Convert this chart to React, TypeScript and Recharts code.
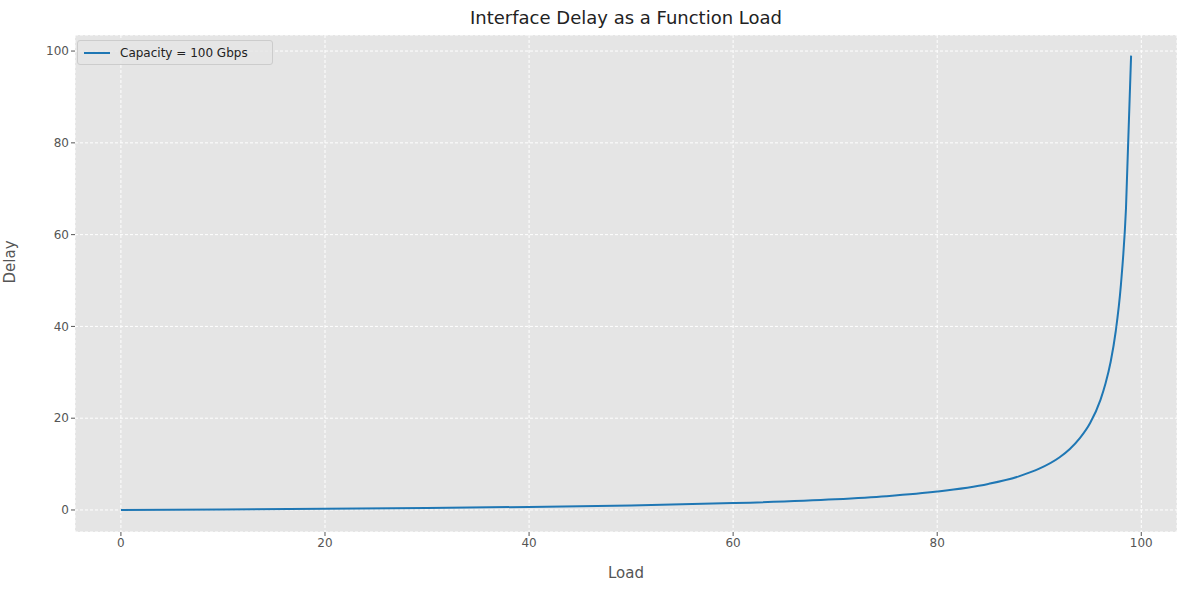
import React from "react";
import { LineChart, Line, XAxis, YAxis, CartesianGrid } from "recharts";

const loads = [0, 10, 20, 30, 40, 50, 60, 70, 75, 80, 85, 88, 90, 92, 93, 94, 95, 96, 96.5, 97, 97.5, 98, 98.5, 99];
const delays = [0, 0.11, 0.25, 0.43, 0.67, 1, 1.5, 2.33, 3, 4, 5.67, 7.33, 9, 11.5, 13.3, 15.7, 19, 24, 27.6, 32.3, 39, 49, 65.7, 99];
const xTicks = [0, 20, 40, 60, 80, 100];
const yTicks = [0, 20, 40, 60, 80, 100];

const data = loads.map((l, i) => ({ load: l, delay: delays[i] }));
const font = "DejaVu Sans, sans-serif";
const tick = { fill: "#555", fontSize: 12, fontFamily: font };

export default function App() {
  return (
    <div style={{ position: "absolute", left: 0, top: 0, width: 1189, height: 590, background: "#fff", fontFamily: font }}>
      <div style={{ position: "absolute", top: 7, width: 1252, textAlign: "center", fontSize: 18, color: "#222" }}>
        Interface Delay as a Function Load
      </div>
      <LineChart width={1189} height={590} data={data} margin={{ top: 35, right: 12, bottom: 0, left: 0 }}>
        <CartesianGrid fill="#e5e5e5" stroke="#fff" strokeDasharray="3 2" />
        <XAxis dataKey="load" type="number" domain={[-4.5, 103.5]} ticks={xTicks} height={58}
          tick={tick} axisLine={false} tickLine={{ stroke: "#555" }} tickSize={4}
          label={{ value: "Load", position: "insideBottom", offset: 12, fill: "#555", fontSize: 15, fontFamily: font }} />
        <YAxis type="number" domain={[-4.8, 103.5]} ticks={yTicks} width={75}
          tick={tick} axisLine={false} tickLine={{ stroke: "#555" }} tickSize={4}
          label={{ value: "Delay", angle: -90, position: "insideLeft", offset: 10, fill: "#555", fontSize: 15, fontFamily: font }} />
        <Line dataKey="delay" type="monotone" stroke="#1f77b4" strokeWidth={2} dot={false} isAnimationActive={false} />
      </LineChart>
      <div style={{ position: "absolute", left: 77, top: 40, width: 196, height: 25, boxSizing: "border-box", border: "1px solid #ccc", borderRadius: 3, background: "rgba(229,229,229,0.8)", display: "flex", alignItems: "center", fontSize: 12, color: "#222" }}>
        <span style={{ display: "inline-block", width: 26, height: 2, background: "#1f77b4", margin: "0 10px 0 6px" }} />
        Capacity = 100 Gbps
      </div>
    </div>
  );
}
